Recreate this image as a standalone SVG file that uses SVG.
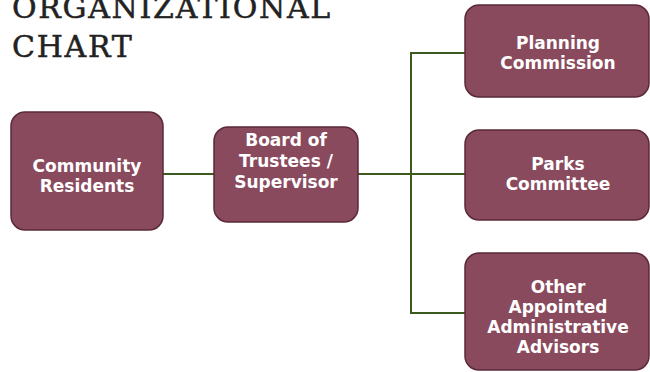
<svg xmlns="http://www.w3.org/2000/svg" width="650" height="372" viewBox="0 0 650 372">
<style>
.box{fill:#8a4a5d;stroke:#5a2a38;stroke-width:1.5}
.lbl{font-family:"DejaVu Sans",sans-serif;font-weight:bold;font-size:17px;fill:#ffffff;text-anchor:middle}
.title{font-family:"DejaVu Serif","Liberation Serif",serif;font-size:30px;fill:#222222;letter-spacing:1.7px;stroke:#222222;stroke-width:0.5}
.con{fill:none;stroke:#3d5a1e;stroke-width:2}
</style>
<rect width="650" height="372" fill="#ffffff"/>
<g id="title">
<text class="title" x="12" y="18">ORGANIZATIONAL</text>
<text class="title" x="12" y="57">CHART</text>
</g>
<g id="connectors">
<line class="con" x1="163" y1="174" x2="214" y2="174"/>
<line class="con" x1="358" y1="174" x2="465" y2="174"/>
<polyline class="con" points="465,53 411,53 411,313 465,313"/>
</g>
<g id="community">
<rect class="box" x="11" y="112" width="152" height="118" rx="14"/>
<text class="lbl" x="87" y="172">Community</text>
<text class="lbl" x="87" y="192">Residents</text>
</g>
<g id="board">
<rect class="box" x="214" y="127" width="144" height="95" rx="14"/>
<text class="lbl" x="286" y="146">Board of</text>
<text class="lbl" x="286" y="167">Trustees /</text>
<text class="lbl" x="286" y="188">Supervisor</text>
</g>
<g id="planning">
<rect class="box" x="465" y="5" width="184" height="92" rx="14"/>
<text class="lbl" x="558" y="49">Planning</text>
<text class="lbl" x="558" y="69">Commission</text>
</g>
<g id="parks">
<rect class="box" x="465" y="130" width="184" height="90" rx="14"/>
<text class="lbl" x="558" y="170">Parks</text>
<text class="lbl" x="558" y="190">Committee</text>
</g>
<g id="other">
<rect class="box" x="465" y="253" width="184" height="117" rx="14"/>
<text class="lbl" x="558" y="293">Other</text>
<text class="lbl" x="558" y="313">Appointed</text>
<text class="lbl" x="558" y="333">Administrative</text>
<text class="lbl" x="558" y="353">Advisors</text>
</g>
</svg>
